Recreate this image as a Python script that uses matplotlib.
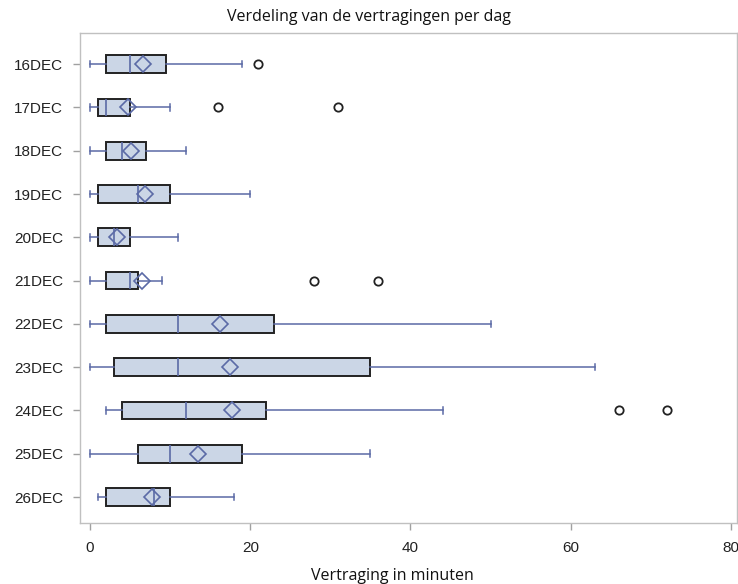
import matplotlib
matplotlib.use("Agg")
import matplotlib.pyplot as plt

# values (minutes)
days = ["16DEC", "17DEC", "18DEC", "19DEC", "20DEC", "21DEC",
        "22DEC", "23DEC", "24DEC", "25DEC", "26DEC"]
whislo = [0, 0, 0, 0, 0, 0, 0, 0, 2, 0, 1]
q1 = [2, 1, 2, 1, 1, 2, 2, 3, 4, 6, 2]
med = [5, 2, 4, 6, 3, 5, 11, 11, 12, 10, 8]
q3 = [9.5, 5, 7, 10, 5, 6, 23, 35, 22, 19, 10]
whishi = [19, 10, 12, 20, 11, 9, 50, 63, 44, 35, 18]
means = [6.6, 4.7, 5.1, 6.8, 3.4, 6.5, 16.2, 17.5, 17.75, 13.5, 7.7]
outliers = [[21], [16, 31], [], [], [], [28, 36], [], [], [66, 72], [], []]

stats = []
for i in range(len(days)):
    stats.append({"label": days[i], "whislo": whislo[i], "q1": q1[i],
                  "med": med[i], "q3": q3[i], "whishi": whishi[i],
                  "mean": means[i], "fliers": outliers[i]})

blue = "#5b6aa6"
fig = plt.figure(figsize=(7.38, 5.84), dpi=100)
ax = fig.add_axes([0.108, 0.1045, 0.891, 0.8390])

positions = list(range(len(days)))
ax.bxp(stats, positions=positions, orientation="horizontal", widths=0.41,
       capwidths=0.15, showmeans=True, patch_artist=True,
       boxprops=dict(facecolor="#cbd6e6", edgecolor="#222222", linewidth=1.4),
       medianprops=dict(color=blue, linewidth=1.2),
       whiskerprops=dict(color=blue, linewidth=1.1),
       capprops=dict(color=blue, linewidth=1.1),
       meanprops=dict(marker="D", markerfacecolor="none",
                      markeredgecolor=blue, markersize=8,
                      markeredgewidth=1.2),
       flierprops=dict(marker="o", markerfacecolor="none",
                       markeredgecolor="#222222", markersize=6,
                       markeredgewidth=1.3))

ax.set_ylim(10.6, -0.72)
ax.set_xlim(-1.3, 80.8)
ax.set_xticks([0, 20, 40, 60, 80])
ax.set_yticks(positions)
ax.set_yticklabels(days)

for lab in ax.get_xticklabels() + ax.get_yticklabels():
    lab.set_family("Liberation Sans")
    lab.set_fontsize(11)
    lab.set_color("#222222")

for s in ax.spines.values():
    s.set_color("#c0c0c0")
    s.set_linewidth(1.0)
ax.tick_params(axis="both", colors="#a0a0a0", length=5, width=1)
ax.tick_params(axis="both", labelcolor="#222222")
ax.tick_params(axis="y", pad=7)
ax.tick_params(axis="x", pad=8)

fig.suptitle("Verdeling van de vertragingen per dag", family="Open Sans",
             fontsize=11.5, color="#111111", x=0.5, y=1 - 17 / 584,
             va="center")
ax.set_xlabel("Vertraging in minuten", family="Open Sans", fontsize=11.5,
              color="#111111", va="center")
ax.xaxis.set_label_coords(0.475, -0.108)

fig.savefig("out.png", dpi=100)
